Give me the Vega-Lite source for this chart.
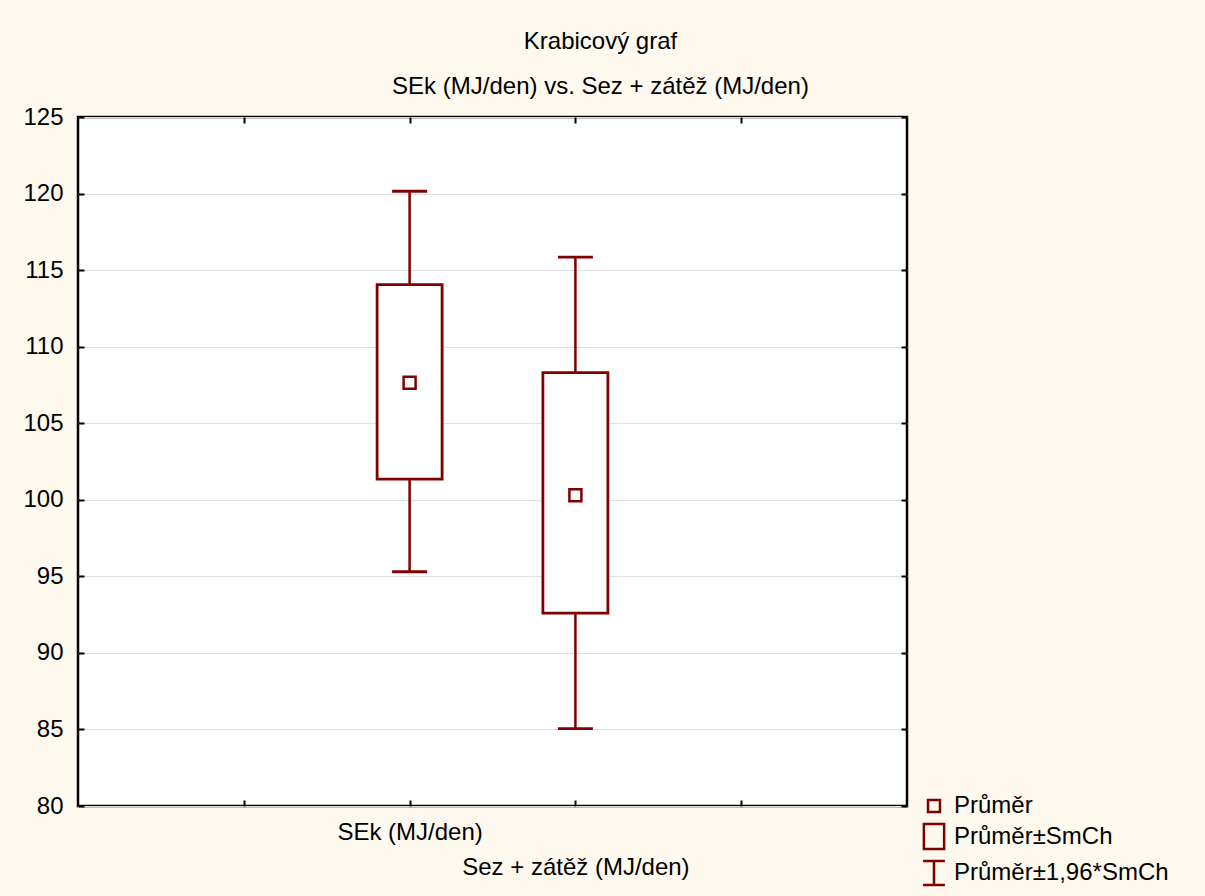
{
  "$schema": "https://vega.github.io/schema/vega-lite/v6.json",
  "autosize": {"type": "none"},
  "width": 829,
  "height": 689,
  "padding": {"left": 78, "top": 117, "right": 298, "bottom": 90},
  "background": "#FEF9EF",
  "title": {
    "text": "Krabicový graf",
    "subtitle": "SEk (MJ/den) vs. Sez + zátěž (MJ/den)",
    "fontSize": 24,
    "subtitleFontSize": 24,
    "fontWeight": "normal",
    "color": "black",
    "subtitleColor": "black",
    "subtitlePadding": 21,
    "offset": 6,
    "anchor": "middle",
    "dx": 108
  },
  "config": {
    "font": "Liberation Sans",
    "view": {"fill": "white", "stroke": "black", "strokeWidth": 2.5}
  },
  "data": {
    "values": [
      {"var": "SEk (MJ/den)", "mean": 107.65, "se_lo": 101.35, "se_hi": 114.05, "ci_lo": 95.3, "ci_hi": 120.15},
      {"var": "Sez + zátěž (MJ/den)", "mean": 100.3, "se_lo": 92.6, "se_hi": 108.3, "ci_lo": 85.05, "ci_hi": 115.85}
    ]
  },
  "resolve": {"axis": {"x": "independent", "y": "independent"}},
  "layer": [
    {
      "mark": {"type": "rule", "color": "#800000", "strokeWidth": 2.5},
      "encoding": {
        "x": {
          "field": "var", "type": "nominal",
          "scale": {"type": "point", "domain": ["_a", "SEk (MJ/den)", "Sez + zátěž (MJ/den)", "_b"], "padding": 1},
          "axis": {
            "orient": "bottom", "title": null, "domain": false, "grid": false,
            "ticks": true, "tickSize": -6, "tickColor": "black", "tickWidth": 2,
            "labelAngle": 0, "labelFontSize": 24, "labelColor": "black", "labelLimit": 0,
            "labelOverlap": false, "labelBaseline": "top",
            "labelExpr": "datum.value === '_a' || datum.value === '_b' ? '' : datum.label",
            "labelPadding": {"condition": {"test": "datum.value === 'Sez + zátěž (MJ/den)'", "value": 55}, "value": 20}
          }
        },
        "y": {
          "field": "ci_lo", "type": "quantitative",
          "scale": {"domain": [80, 125], "nice": false, "zero": false},
          "axis": {
            "orient": "left", "title": null, "domain": false,
            "values": [80, 85, 90, 95, 100, 105, 110, 115, 120, 125],
            "grid": true, "gridColor": "#E0E0E0", "gridWidth": 1,
            "ticks": true, "tickSize": -6, "tickColor": "black", "tickWidth": 2,
            "labelFontSize": 24, "labelColor": "black", "labelPadding": 21,
            "labelFlush": false, "labelOverlap": false
          }
        },
        "y2": {"field": "ci_hi"}
      }
    },
    {
      "mark": {"type": "bar", "fill": "white", "stroke": "#800000", "strokeWidth": 2.8, "size": 65},
      "encoding": {
        "x": {
          "field": "var", "type": "nominal",
          "axis": {
            "orient": "top", "title": null, "domain": false, "grid": false, "labels": false,
            "ticks": true, "tickSize": -6, "tickColor": "black", "tickWidth": 2
          }
        },
        "y": {
          "field": "se_lo", "type": "quantitative",
          "axis": {
            "orient": "right", "title": null, "domain": false, "grid": false, "labels": false,
            "values": [80, 85, 90, 95, 100, 105, 110, 115, 120, 125],
            "ticks": true, "tickSize": -6, "tickColor": "black", "tickWidth": 2
          }
        },
        "y2": {"field": "se_hi"}
      }
    },
    {
      "mark": {"type": "tick", "color": "#800000", "size": 35, "thickness": 2.8, "orient": "horizontal", "opacity": 1},
      "encoding": {
        "x": {"field": "var", "type": "nominal", "axis": null},
        "y": {"field": "ci_lo", "type": "quantitative", "axis": null}
      }
    },
    {
      "mark": {"type": "tick", "color": "#800000", "size": 35, "thickness": 2.8, "orient": "horizontal", "opacity": 1},
      "encoding": {
        "x": {"field": "var", "type": "nominal", "axis": null},
        "y": {"field": "ci_hi", "type": "quantitative", "axis": null}
      }
    },
    {
      "mark": {"type": "point", "size": 729, "filled": false, "color": "#800000", "stroke": "#800000", "strokeWidth": 2.5, "opacity": 1},
      "encoding": {
        "x": {"field": "var", "type": "nominal", "axis": null},
        "y": {"field": "mean", "type": "quantitative", "axis": null},
        "shape": {
          "datum": "Průměr",
          "scale": {
            "domain": ["Průměr", "Průměr±SmCh", "Průměr±1,96*SmCh"],
            "range": [
              "M-0.444,-0.444H0.444V0.444H-0.444Z",
              "M-0.75,-0.93H0.75V0.93H-0.75Z",
              "M-0.81,-0.89H0.81M0,-0.89V0.89M-0.81,0.89H0.81"
            ]
          },
          "legend": {
            "title": null, "orient": "none", "legendX": 841, "legendY": 674,
            "direction": "vertical",
            "symbolSize": 729, "symbolStrokeColor": "#800000", "symbolFillColor": "transparent",
            "symbolStrokeWidth": 2.5, "symbolOpacity": 1,
            "labelFontSize": 24, "labelColor": "black", "labelOffset": 5, "labelLimit": 0,
            "rowPadding": 0.5, "padding": 0
          }
        }
      }
    }
  ]
}
